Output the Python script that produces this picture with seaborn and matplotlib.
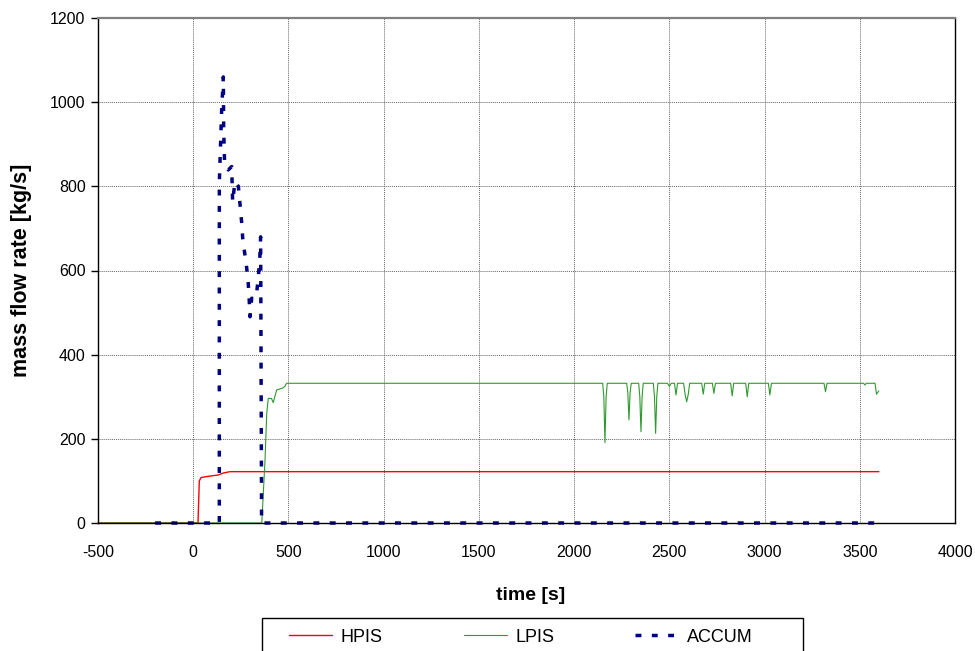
import numpy as np
import pandas as pd
import seaborn as sns
import matplotlib.pyplot as plt
from matplotlib.patches import Rectangle

# HPIS injection [s], [kg/s]
hpis_t = [-500, 25, 32, 41, 80, 130, 160, 193, 3600]
hpis_v = [0, 0, 100, 108, 111, 114, 119, 122, 122]

# LPIS injection
lpis_t = [-500, 360, 377, 386, 394, 411, 420, 438, 471, 480, 490,
          2150, 2156, 2162, 2168, 2174,
          2276, 2282, 2288, 2294, 2300,
          2339, 2345, 2351, 2357, 2363,
          2416, 2422, 2428, 2434, 2440,
          2490, 2500, 2510,
          2527, 2535, 2543,
          2575, 2583, 2591, 2599, 2607,
          2670, 2678, 2686,
          2726, 2734, 2742,
          2822, 2830, 2838,
          2901, 2909, 2917,
          3020, 3028, 3036,
          3312, 3320, 3328,
          3520, 3527, 3534,
          3580, 3588, 3600]
lpis_v = [0, 0, 150, 260, 296, 296, 286, 316, 321, 324, 332,
          332, 300, 191, 300, 332,
          332, 310, 245, 310, 332,
          332, 300, 217, 300, 332,
          332, 300, 213, 300, 332,
          332, 325, 332,
          332, 304, 332,
          332, 305, 288, 305, 332,
          332, 306, 332,
          332, 308, 332,
          332, 302, 332,
          332, 300, 332,
          332, 304, 332,
          332, 312, 332,
          332, 328, 332,
          332, 306, 314]

# accumulator
accum_t = [-200, 137, 137, 149, 158, 160, 165, 184, 202, 207, 219, 237,
           246, 254, 260, 268, 280, 289, 294, 298, 307, 324, 333, 342,
           350, 354, 359, 3600]
accum_v = [0, 0, 808, 977, 1060, 934, 851, 839, 847, 763, 811, 800,
           756, 716, 676, 649, 609, 569, 530, 490, 534, 533, 546, 585,
           633, 680, 0, 0]

sns.set_theme(style='white')
plt.rcParams['font.family'] = ['Liberation Sans', 'DejaVu Sans']
plt.rcParams['axes.unicode_minus'] = False
plt.rcParams['text.color'] = 'black'
plt.rcParams['axes.labelcolor'] = 'black'

fig = plt.figure(figsize=(9.75, 6.51), dpi=100)
ax = fig.add_axes([98/975, 1-523/651, 857/975, 505/651])

sns.lineplot(x=hpis_t, y=hpis_v, ax=ax, color='#ff0000', lw=1.0,
             sort=False, estimator=None, label='HPIS', clip_on=False)
sns.lineplot(x=lpis_t, y=lpis_v, ax=ax, color='#2e9a2e', lw=0.8,
             sort=False, estimator=None, label='LPIS', clip_on=False)
sns.lineplot(x=accum_t, y=accum_v, ax=ax, color='#000080', lw=2.5,
             linestyle=(0, (1.7, 3.0)), sort=False, estimator=None,
             label='ACCUM', clip_on=False)

ax.set_xlim(-500, 4000)
ax.set_ylim(0, 1200)
ax.set_xticks(np.arange(-500, 4001, 500))
ax.set_yticks(np.arange(0, 1201, 200))
ax.grid(True, color='#666666', linestyle=(0, (1, 1)), lw=0.7)
ax.tick_params(axis='x', direction='inout', length=9, width=1, color='black',
               labelcolor='black', labelsize=11.5, pad=11)
ax.tick_params(axis='y', direction='out', length=5, width=1, color='black',
               labelcolor='black', labelsize=11.5, pad=4, left=True)
for s in ['left', 'bottom', 'right']:
    ax.spines[s].set_color('black')
    ax.spines[s].set_linewidth(1)
ax.spines['top'].set_color('#808080')
ax.spines['top'].set_linewidth(1.6)

ax.set_xlabel('time [s]', fontsize=14, fontweight='bold', color='black')
ax.set_ylabel('mass flow rate [kg/s]', fontsize=15.5, fontweight='bold', color='black')
ax.xaxis.set_label_coords(0.505, -0.127)
ax.yaxis.set_label_coords(-0.077, 0.5)

handles, labels = ax.get_legend_handles_labels()
ax.get_legend().remove()
fig.legend(handles, labels, ncol=3, frameon=False, loc='center left',
           bbox_to_anchor=(289/975, 1-637/651), borderpad=0, borderaxespad=0,
           fontsize=13, handlelength=2.4, handletextpad=0.45, columnspacing=4.5,
           labelcolor='black')
fig.patches.append(Rectangle((262/975, -0.1), (803-262)/975, 0.1+1-618/651,
                             transform=fig.transFigure, fill=False,
                             edgecolor='black', lw=1))

fig.savefig('out.png', dpi=100)
